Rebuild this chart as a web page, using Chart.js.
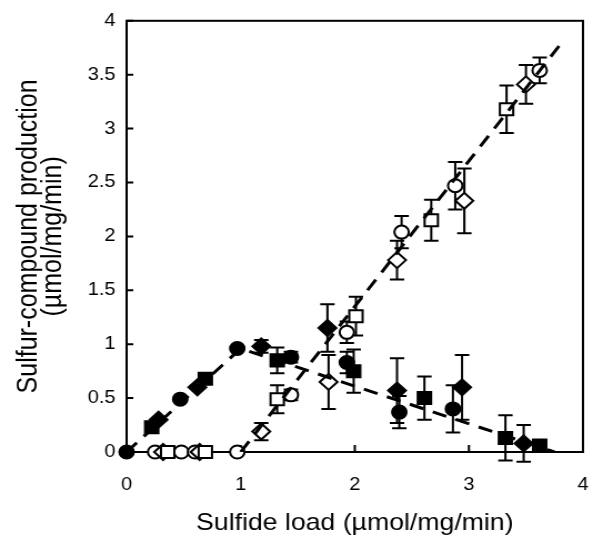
<!DOCTYPE html>
<html>
<head>
<meta charset="utf-8">
<script src="https://cdn.jsdelivr.net/npm/chart.js@4"></script>
<style>
  html, body { margin: 0; padding: 0; background: #fff; }
</style>
</head>
<body>
<!-- the source figure is stretched sideways, so the canvas is drawn narrower and widened by css -->
<canvas id="myChart" width="552" height="538" style="width:613px;height:538px"></canvas>
<script>
// axis ticks
var xTicks = [0, 1, 2, 3, 4];
var yTicks = [0, 0.5, 1, 1.5, 2, 2.5, 3, 3.5, 4];

// filled symbols
var fCircX = [0, 0.47, 0.97, 1.44, 1.93, 2.39, 2.86];
var fCircY = [0, 0.49, 0.96, 0.88, 0.83, 0.37, 0.40];
var fCircE = [0, 0, 0, 0.05, 0.10, 0.15, 0.22];

var fSqX = [0.22, 0.69, 1.32, 1.99, 2.61, 3.32, 3.62];
var fSqY = [0.23, 0.68, 0.85, 0.75, 0.50, 0.13, 0.06];
var fSqE = [0, 0, 0.12, 0.20, 0.20, 0.21, 0.05];

var fDiaX = [0.28, 0.62, 1.18, 1.76, 2.37, 2.94, 3.48];
var fDiaY = [0.30, 0.60, 0.98, 1.15, 0.57, 0.60, 0.08];
var fDiaE = [0, 0, 0.06, 0.22, 0.30, 0.30, 0.17];

// open symbols
var oCircX = [0.25, 0.48, 0.60, 0.97, 1.44, 1.93, 2.41, 2.88, 3.62];
var oCircY = [0, 0, 0, 0, 0.53, 1.11, 2.04, 2.47, 3.54];
var oCircE = [0, 0, 0, 0, 0.05, 0.10, 0.15, 0.22, 0.12];

var oSqX = [0.36, 0.69, 1.32, 2.01, 2.67, 3.33];
var oSqY = [0, 0, 0.49, 1.26, 2.15, 3.18];
var oSqE = [0, 0, 0.13, 0.18, 0.19, 0.22];

var oDiaX = [0.32, 0.64, 1.18, 1.77, 2.37, 2.96, 3.50];
var oDiaY = [0, 0, 0.19, 0.65, 1.78, 2.33, 3.41];
var oDiaE = [0, 0, 0.08, 0.25, 0.18, 0.30, 0.18];

// dashed trend lines
var lineAX = [0, 1.0, 3.75];
var lineAY = [0, 0.96, 0];
var lineBX = [1.0, 3.8];
var lineBY = [0, 3.78];

function pts(xs, ys, es) {
    return xs.map(function (x, i) { return {x: x, y: ys[i], e: es ? es[i] : 0}; });
}

var FONT = "'Liberation Sans', Arial, Helvetica, sans-serif";

function markerSet(xs, ys, es, style, filled, r) {
    return {
        type: "scatter",
        data: pts(xs, ys, es),
        pointStyle: style,
        pointRadius: r,
        pointHoverRadius: r,
        backgroundColor: filled ? "#000" : "#fff",
        borderColor: "#000",
        borderWidth: 2,
        clip: false,
        errBars: true
    };
}

function lineSet(xs, ys) {
    return {
        type: "line",
        data: pts(xs, ys),
        borderColor: "#000",
        borderWidth: 3,
        borderDash: [13, 9],
        pointRadius: 0,
        fill: false,
        tension: 0
    };
}

// frame, inward ticks and error bars
var decor = {
    id: "decor",
    beforeDatasetsDraw: function (chart) {
        var ctx = chart.ctx, a = chart.chartArea;
        var xs = chart.scales.x, ys = chart.scales.y;
        ctx.save();
        ctx.strokeStyle = "#000";
        ctx.lineWidth = 2;
        ctx.strokeRect(a.left, a.top, a.right - a.left, a.bottom - a.top);
        ctx.beginPath();
        xTicks.forEach(function (v) {
            var px = xs.getPixelForValue(v);
            ctx.moveTo(px, a.bottom);
            ctx.lineTo(px, a.bottom - 7);
        });
        yTicks.forEach(function (v) {
            var py = ys.getPixelForValue(v);
            ctx.moveTo(a.left, py);
            ctx.lineTo(a.left + 6, py);
        });
        ctx.stroke();

        chart.data.datasets.forEach(function (ds) {
            if (!ds.errBars) return;
            ds.data.forEach(function (p) {
                if (!p.e) return;
                var px = xs.getPixelForValue(p.x);
                var y1 = ys.getPixelForValue(p.y + p.e);
                var y2 = ys.getPixelForValue(p.y - p.e);
                ctx.beginPath();
                ctx.moveTo(px, y1); ctx.lineTo(px, y2);
                ctx.moveTo(px - 6.5, y1); ctx.lineTo(px + 6.5, y1);
                ctx.moveTo(px - 6.5, y2); ctx.lineTo(px + 6.5, y2);
                ctx.stroke();
            });
        });
        ctx.restore();
    }
};

new Chart("myChart", {
    data: {
        datasets: [
            lineSet(lineAX, lineAY),
            lineSet(lineBX, lineBY),
            markerSet(oSqX, oSqY, oSqE, "rect", false, 8.5),
            markerSet(oDiaX, oDiaY, oDiaE, "rectRot", false, 8),
            markerSet(oCircX, oCircY, oCircE, "circle", false, 6.5),
            markerSet(fSqX, fSqY, fSqE, "rect", true, 8.5),
            markerSet(fDiaX, fDiaY, fDiaE, "rectRot", true, 8),
            markerSet(fCircX, fCircY, fCircE, "circle", true, 6.5)
        ]
    },
    options: {
        responsive: false,
        animation: false,
        events: [],
        layout: {
            autoPadding: false,
            padding: {left: 0, right: 4, top: 20, bottom: 0}
        },
        plugins: {
            legend: {display: false},
            tooltip: {enabled: false}
        },
        scales: {
            x: {
                type: "linear",
                min: 0, max: 4,
                afterFit: function (s) { s.height = 86; },
                afterBuildTicks: function (s) { s.ticks = xTicks.map(function (v) { return {value: v}; }); },
                grid: {display: false, drawTicks: false},
                border: {display: false},
                ticks: {
                    color: "#000",
                    padding: 22,
                    maxRotation: 0,
                    font: {family: FONT, size: 18}
                },
                title: {
                    display: true,
                    text: "Sulfide load (µmol/mg/min)",
                    color: "#000",
                    font: {family: FONT, size: 24, lineHeight: 1.0},
                    padding: {top: 0, bottom: 3}
                }
            },
            y: {
                type: "linear",
                min: 0, max: 4,
                afterFit: function (s) { s.width = 114; },
                afterBuildTicks: function (s) { s.ticks = yTicks.map(function (v) { return {value: v}; }); },
                grid: {display: false, drawTicks: false},
                border: {display: false},
                ticks: {
                    color: "#000",
                    padding: 10,
                    font: {family: FONT, size: 18},
                    callback: function (v) { return String(v); }
                },
                title: {
                    display: true,
                    text: ["Sulfur-compound production", "(µmol/mg/min)"],
                    color: "#000",
                    font: {family: FONT, size: 25, lineHeight: 0.88},
                    padding: {top: 15, bottom: 0}
                }
            }
        }
    },
    plugins: [decor]
});
</script>
</body>
</html>
